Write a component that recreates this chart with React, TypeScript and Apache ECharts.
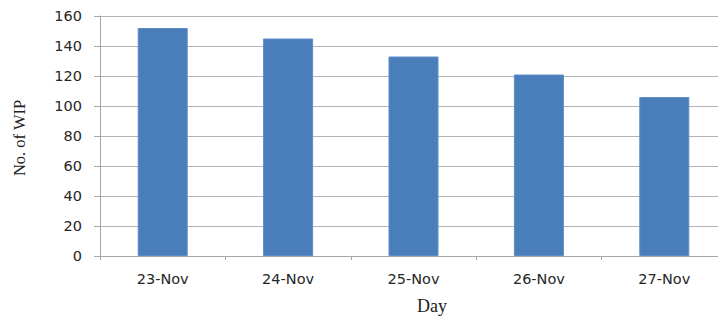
import React, { useEffect, useRef } from "react";
import * as echarts from "echarts";

const categories = ["23-Nov", "24-Nov", "25-Nov", "26-Nov", "27-Nov"];
const wipValues = [152, 145, 133, 121, 106];
const yAxisTitle = "No. of WIP";
const xAxisTitle = "Day";

export default function App() {
  const ref = useRef<HTMLDivElement>(null);
  useEffect(() => {
    if (!ref.current) return;
    const chart = echarts.init(ref.current, null, { renderer: "svg" });
    chart.setOption({
      animation: false,
      backgroundColor: "#ffffff",
      grid: { left: 100, top: 16, right: 0, height: 240, containLabel: false },
      xAxis: {
        type: "category",
        data: categories,
        axisLine: { lineStyle: { color: "#a6a6a6", width: 1 } },
        axisTick: { show: true, length: 4, lineStyle: { color: "#a6a6a6" } },
        axisLabel: {
          color: "#262626",
          fontFamily: "DejaVu Sans, sans-serif",
          fontSize: 14.5,
          margin: 15,
        },
      },
      yAxis: {
        type: "value",
        min: 0,
        max: 160,
        interval: 20,
        axisLine: { show: true, lineStyle: { color: "#a6a6a6", width: 1 } },
        axisTick: { show: true, length: 6, lineStyle: { color: "#a6a6a6" } },
        splitLine: { lineStyle: { color: "#b3b3b3", width: 1 } },
        axisLabel: {
          color: "#262626",
          fontFamily: "DejaVu Sans, sans-serif",
          fontSize: 14.5,
          margin: 18,
        },
      },
      series: [
        {
          type: "bar",
          data: wipValues,
          barWidth: 50,
          itemStyle: { color: "#4a7ebb", borderColor: "#5b8cc8", borderWidth: 1 },
        },
      ],
      graphic: [
        {
          type: "text",
          x: 19,
          y: 138,
          rotation: Math.PI / 2,
          style: {
            text: yAxisTitle,
            fontFamily: "Liberation Serif, serif",
            fontSize: 16.5,
            fill: "#222222",
            textAlign: "center",
            textVerticalAlign: "middle",
          },
        },
        {
          type: "text",
          x: 432,
          y: 306,
          style: {
            text: xAxisTitle,
            fontFamily: "Liberation Serif, serif",
            fontSize: 18,
            fill: "#222222",
            textAlign: "center",
            textVerticalAlign: "middle",
          },
        },
      ],
    });
    return () => chart.dispose();
  }, []);
  return (
    <div
      ref={ref}
      style={{ position: "fixed", left: 0, top: 0, width: 727, height: 316 }}
    />
  );
}
